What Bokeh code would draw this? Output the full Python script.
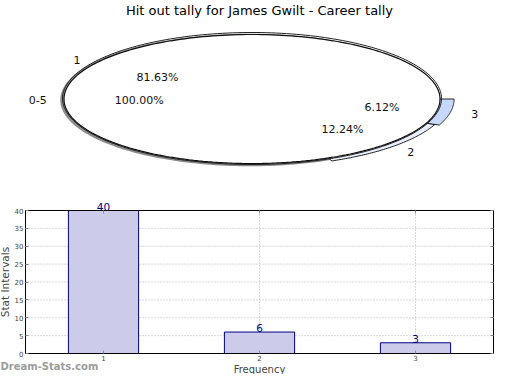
import numpy as np
from bokeh.plotting import figure
from bokeh.models import Range1d, ColumnDataSource, FixedTicker, LinearAxis
from bokeh.core.properties import value
from bokeh.embed import file_html
from bokeh.resources import INLINE

# ---------------- data ----------------
chart_title = "Hit out tally for James Gwilt - Career tally"
categories = ["1", "2", "3"]
counts = [40, 6, 3]
ring_label = "0-5"
ring_share = 100.0
y_ticks = [0, 5, 10, 15, 20, 25, 30, 35, 40]
x_lim = (0.5, 3.5)
y_lim = (0, 40)
x_axis_label = "Frequency"
y_axis_label = "Stat Intervals"
watermark = "Dream-Stats.com"

# ---------------- styles / layout ----------------
FONT = "DejaVu Sans"
slice_colors = ["#ffffff", "#e8effd", "#c6d8fb"]
slice_reach = [1.0, 1.05, 1.075]
W, H = 504, 374

def Y(row):              # pixel row (from top) -> data y
    return H - row

p = figure(width=W, height=H, x_range=Range1d(0, W), y_range=Range1d(0, H),
           output_backend="svg", toolbar_location=None, min_border=0, title=None,
           x_axis_location=None, y_axis_location=None)
p.grid.visible = False
p.outline_line_color = None
p.background_fill_color = "#ffffff"
p.border_fill_color = "#ffffff"

# ---------------- pie ----------------
cx, cy, rx, ry = 251.5, Y(98.5), 188.0, 64.5
total = float(sum(counts))
fracs = np.array(counts, dtype=float) / total
edges = np.concatenate([[0.0], np.cumsum(fracs) * 360.0])
t = np.radians(np.linspace(0, 360, 241))

def ell(x0, y0, a, b):
    return list(x0 + a * np.cos(t)), list(y0 + b * np.sin(t))

# shadow
sx, sy = ell(cx - 2, cy - 1, rx + 1, ry + 1)
p.patch(sx, sy, fill_color="#9a9a9a", line_color="#8a8a8a", line_width=1.5)

# protruding slices
xs, ys, fills = [], [], []
for i in range(1, len(counts)):
    a = np.radians(np.linspace(edges[i], edges[i + 1], 60))
    k = slice_reach[i]
    xs.append([cx] + list(cx + k * rx * np.cos(a)))
    ys.append([cy] + list(cy + k * ry * np.sin(a)))
    fills.append(slice_colors[i])
p.patches(xs=xs, ys=ys, fill_color=fills, line_color="#222222", line_width=1)

# outer ring (0-5 = 100 %)
ox, oy = ell(cx, cy + 0.5, rx + 1.5, ry + 1.5)
p.patch(ox, oy, fill_color=None, line_color="#222222", line_width=1)
# largest slice (white disc)
wx, wy = ell(cx, cy, rx, ry)
p.patch(wx, wy, fill_color="#ffffff", line_color="#111111", line_width=1.2)

mids = np.radians((edges[:-1] + edges[1:]) / 2.0)
reach = np.array(slice_reach) - 1.0
lab_f = 1.11 + 1.3 * reach
pct_f = 0.60 + 1.4 * reach
lab_x = list(cx + lab_f * rx * np.cos(mids))
lab_y = list(cy + lab_f * ry * np.sin(mids))
pct_x = list(cx + pct_f * rx * np.cos(mids))
pct_y = list(cy + pct_f * ry * np.sin(mids))
pct_txt = ["%.2f%%" % (f * 100) for f in fracs]

tx = lab_x + pct_x + [cx - 1.14 * rx, cx - 0.60 * rx]
ty = lab_y + pct_y + [cy - 1, cy - 1]
tt = categories + pct_txt + [ring_label, "%.2f%%" % ring_share]
p.text(x=tx, y=ty, text=tt, text_font=value(FONT), text_font_size="11px",
       text_align="center", text_baseline="middle", text_color="#111111")

p.text(x=[259], y=[Y(10)], text=[chart_title], text_font=value(FONT), text_font_size="13px",
       text_align="center", text_baseline="middle", text_color="#000000")

# ---------------- bar chart (own scales) ----------------
L, R, T, B = 25.0, 493.0, 210.0, 353.0   # pixel box of the plot area
ppx = (R - L) / (x_lim[1] - x_lim[0])
ppy = (B - T) / (y_lim[1] - y_lim[0])
p.extra_x_ranges = {"bx": Range1d(x_lim[0] - L / ppx, x_lim[1] + (W - R) / ppx)}
p.extra_y_ranges = {"by": Range1d(y_lim[0] - (H - B) / ppy, y_lim[1] + T / ppy)}
kw = dict(x_range_name="bx", y_range_name="by")

xv = [int(c) for c in categories]
src = ColumnDataSource(dict(x=xv, top=counts, lab=[str(c) for c in counts]))

# grid
p.segment(x0=[x_lim[0]] * len(y_ticks), x1=[x_lim[1]] * len(y_ticks), y0=y_ticks, y1=y_ticks,
          line_color="#b4b4b4", line_dash="1 2", line_width=1, **kw)
p.segment(x0=xv, x1=xv, y0=[y_lim[0]] * len(xv), y1=[y_lim[1]] * len(xv),
          line_color="#b4b4b4", line_dash="1 2", line_width=1, **kw)

p.vbar(x="x", top="top", width=0.45, source=src, fill_color="#ccccea",
       line_color="#000080", line_width=1, **kw)
p.text(x="x", y="top", text="lab", source=src, text_align="center", text_baseline="bottom",
       text_color="#000080", text_font=value(FONT), text_font_size="10.5px", **kw)

# box
p.quad(left=[x_lim[0]], right=[x_lim[1]], bottom=[y_lim[0]], top=[y_lim[1]],
       fill_color=None, line_color="#000000", line_width=1, **kw)

def style(ax):
    ax.axis_line_color = "#000000"
    ax.major_tick_in = 3
    ax.major_tick_out = 0
    ax.minor_tick_line_color = None
    ax.major_tick_line_color = "#8c8c8c"
    ax.major_label_text_font = FONT
    ax.major_label_text_font_size = "7px"
    ax.major_label_standoff = 2
    ax.axis_label_text_font = FONT
    ax.axis_label_text_font_size = "10.5px"
    ax.axis_label_text_font_style = "normal"
    ax.axis_label_standoff = 1

xa = LinearAxis(fixed_location=y_lim[0], bounds=x_lim, ticker=FixedTicker(ticks=xv),
                axis_label=x_axis_label, **kw)
ya = LinearAxis(fixed_location=x_lim[0], bounds=y_lim, ticker=FixedTicker(ticks=y_ticks),
                axis_label=y_axis_label, **kw)
ra = LinearAxis(fixed_location=x_lim[1], bounds=y_lim, ticker=FixedTicker(ticks=y_ticks),
                major_label_overrides={v: "" for v in y_ticks}, **kw)
ta = LinearAxis(fixed_location=y_lim[1], bounds=x_lim, ticker=FixedTicker(ticks=xv),
                major_label_overrides={v: "" for v in xv}, **kw)
for ax in (xa, ya, ra, ta):
    style(ax)
xa.major_label_standoff = 1
xa.axis_label_standoff = 0
xa.axis_label_text_font_size = "10px"
p.add_layout(xa, "below")
p.add_layout(ya, "left")
p.add_layout(ra, "right")
p.add_layout(ta, "above")

p.text(x=[0], y=[Y(366)], text=[watermark], text_font=value(FONT), text_font_size="10px",
       text_font_style="bold", text_color="#9c9c9c", text_align="left", text_baseline="middle")

open("out.html", "w").write(file_html(p, INLINE))
